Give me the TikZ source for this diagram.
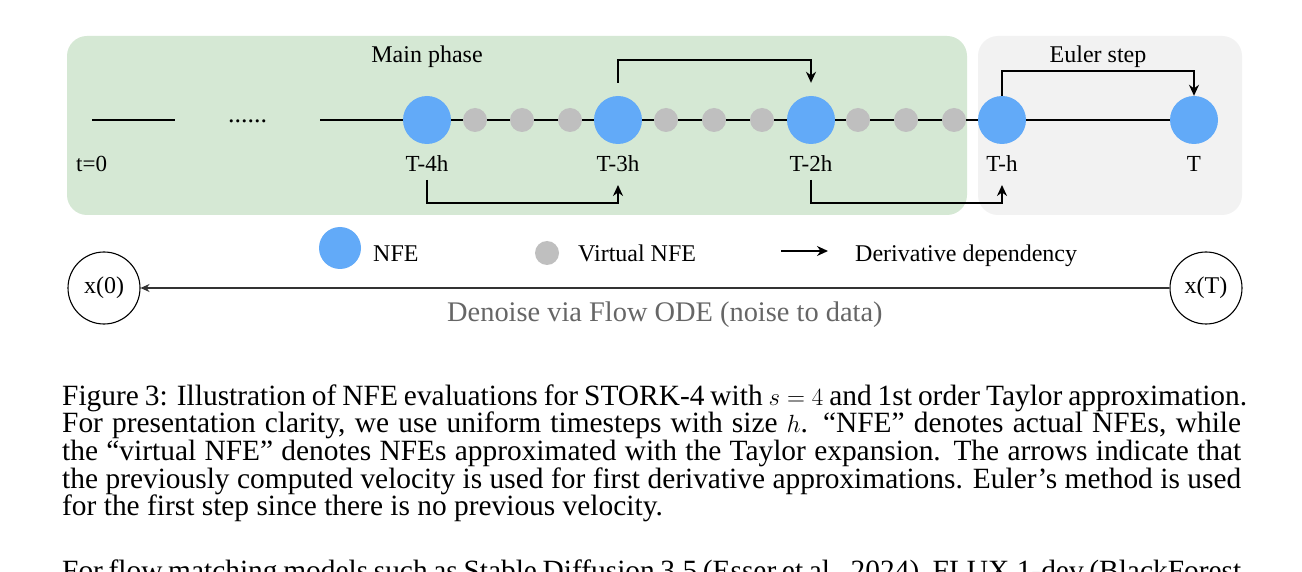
\documentclass[tikz,border=0pt]{standalone}
\usepackage{fontspec}
\setmainfont{Liberation Serif}
\usetikzlibrary{arrows.meta}
\definecolor{phasegreen}{HTML}{D5E8D4}
\definecolor{eulergray}{HTML}{F2F2F2}
\definecolor{nfeblue}{RGB}{98,170,248}
\definecolor{vgray}{HTML}{BFBFBF}
\definecolor{odegray}{HTML}{666666}
\newcommand{\fsz}[1]{\fontsize{#1}{#1}\selectfont}
\begin{document}
\begin{tikzpicture}[x=1pt,y=-1pt,
  nfe/.style={circle,fill=nfeblue,minimum size=48pt,inner sep=0pt},
  vnfe/.style={circle,fill=vgray,minimum size=24pt,inner sep=0pt},
  lbl/.style={anchor=base,font={\fsz{23}},inner sep=0pt},
  ttl/.style={anchor=base,font={\fsz{24}},inner sep=0pt},
  leg/.style={anchor=base west,font={\fsz{24}},inner sep=0pt},
  dep/.style={line width=1.8pt,-{Stealth[length=11pt,width=10pt]}},
  tl/.style={line width=1.3pt},
  xnode/.style={circle,draw=black,line width=1.1pt,fill=white,minimum size=72pt,inner sep=0pt,font={\fsz{24}}},
  capline/.style={anchor=base west,inner sep=0pt,font={\fsz{29.4}}}]
\useasboundingbox (0,0) rectangle (1302,572);
\clip (0,0) rectangle (1302,572);
\fill[white] (0,0) rectangle (1302,572);
% phase boxes
\fill[phasegreen,rounded corners=20pt] (67,36) rectangle (967,215);
\fill[eulergray,rounded corners=20pt] (978,36) rectangle (1242,215);
% timeline
\coordinate (a0) at (92,120);
\coordinate (a1) at (175,120);
\coordinate (a2) at (320,120);
\coordinate (a3) at (1194,120);
\draw[tl] (a0) -- (a1);
\draw[tl] (a2) -- (a3);
\node[anchor=base west,font={\fsz{26}},inner sep=0pt] (dots) at (228,123) {......};
% NFE nodes
\node[nfe] (n1) at (427,120) {};
\node[nfe] (n2) at (618,120) {};
\node[nfe] (n3) at (811,120) {};
\node[nfe] (n4) at (1002,120) {};
\node[nfe] (n5) at (1194,120) {};
% virtual NFE nodes
\foreach \x [count=\i] in {475,522,570,666,714,762,858,906,954}
  \node[vnfe] (v\i) at (\x,120) {};
% labels
\node[anchor=base west,font={\fsz{23}},inner sep=0pt] (l0) at (76,172) {t=0};
\node[lbl] (l1) at (427,172) {T-4h};
\node[lbl] (l2) at (618,172) {T-3h};
\node[lbl] (l3) at (811,172) {T-2h};
\node[lbl] (l4) at (1002,172) {T-h};
\node[lbl] (l5) at (1194,172) {T};
\node[ttl] (mp) at (427,63) {Main phase};
\node[ttl] (es) at (1098,63) {Euler step};
% dependency arrows
\draw[dep] ([yshift=13pt]n2.north) -- ++(0,-23) -| ([yshift=13pt]n3.north);
\draw[dep] (n4.north) -- ++(0,-25) -| (n5.north);
\draw[dep] ([yshift=-60pt]n1.center) -- ++(0,23) -| ([yshift=-65pt]n2.center);
\draw[dep] ([yshift=-60pt]n3.center) -- ++(0,23) -| ([yshift=-65pt]n4.center);
% legend
\node[circle,fill=nfeblue,minimum size=42pt,inner sep=0pt] (lg1) at (340,248) {};
\node[leg] (lt1) at (373,262) {NFE};
\node[vnfe] (lg2) at (547,253) {};
\node[leg] (lt2) at (578,262) {Virtual NFE};
\coordinate (lga) at (781,251);
\coordinate (lgb) at (828,251);
\draw[line width=1.8pt,-{Stealth[length=11pt,width=10pt]}] (lga) -- (lgb);
\node[leg] (lt3) at (855,262) {Derivative dependency};
% ODE
\node[xnode] (x0) at (104,288) {x(0)};
\node[xnode] (xT) at (1206,288) {x(T)};
\draw[line width=1.3pt,black!80,-{Stealth[length=9pt,width=8pt]}] (xT) -- (x0);
\node[anchor=base west,inner sep=0pt,font={\fsz{28.4}},text=odegray] (ode) at (447,322) {Denoise via Flow ODE (noise to data)};
% caption
\node[capline] (c1) at (62,405) {\makebox[1185pt][s]{Figure 3: Illustration of NFE evaluations for STORK-4 with $s = 4$ and 1st order Taylor approximation.}};
\node[capline] (c2) at (62,432.7) {\makebox[1179pt][s]{For presentation clarity, we use uniform timesteps with size $h$. ``NFE'' denotes actual NFEs, while}};
\node[capline] (c3) at (62,460.4) {\makebox[1179pt][s]{the ``virtual NFE'' denotes NFEs approximated with the Taylor expansion. The arrows indicate that}};
\node[capline] (c4) at (62,488) {\makebox[1179pt][s]{the previously computed velocity is used for first derivative approximations. Euler's method is used}};
\node[capline] (c5) at (62,515.7) {for the first step since there is no previous velocity.};
\node[capline] (c6) at (62,580) {\makebox[1179pt][s]{For flow matching models such as Stable Diffusion 3.5 (Esser et al., 2024), FLUX.1-dev (BlackForest}};
\end{tikzpicture}
\end{document}
